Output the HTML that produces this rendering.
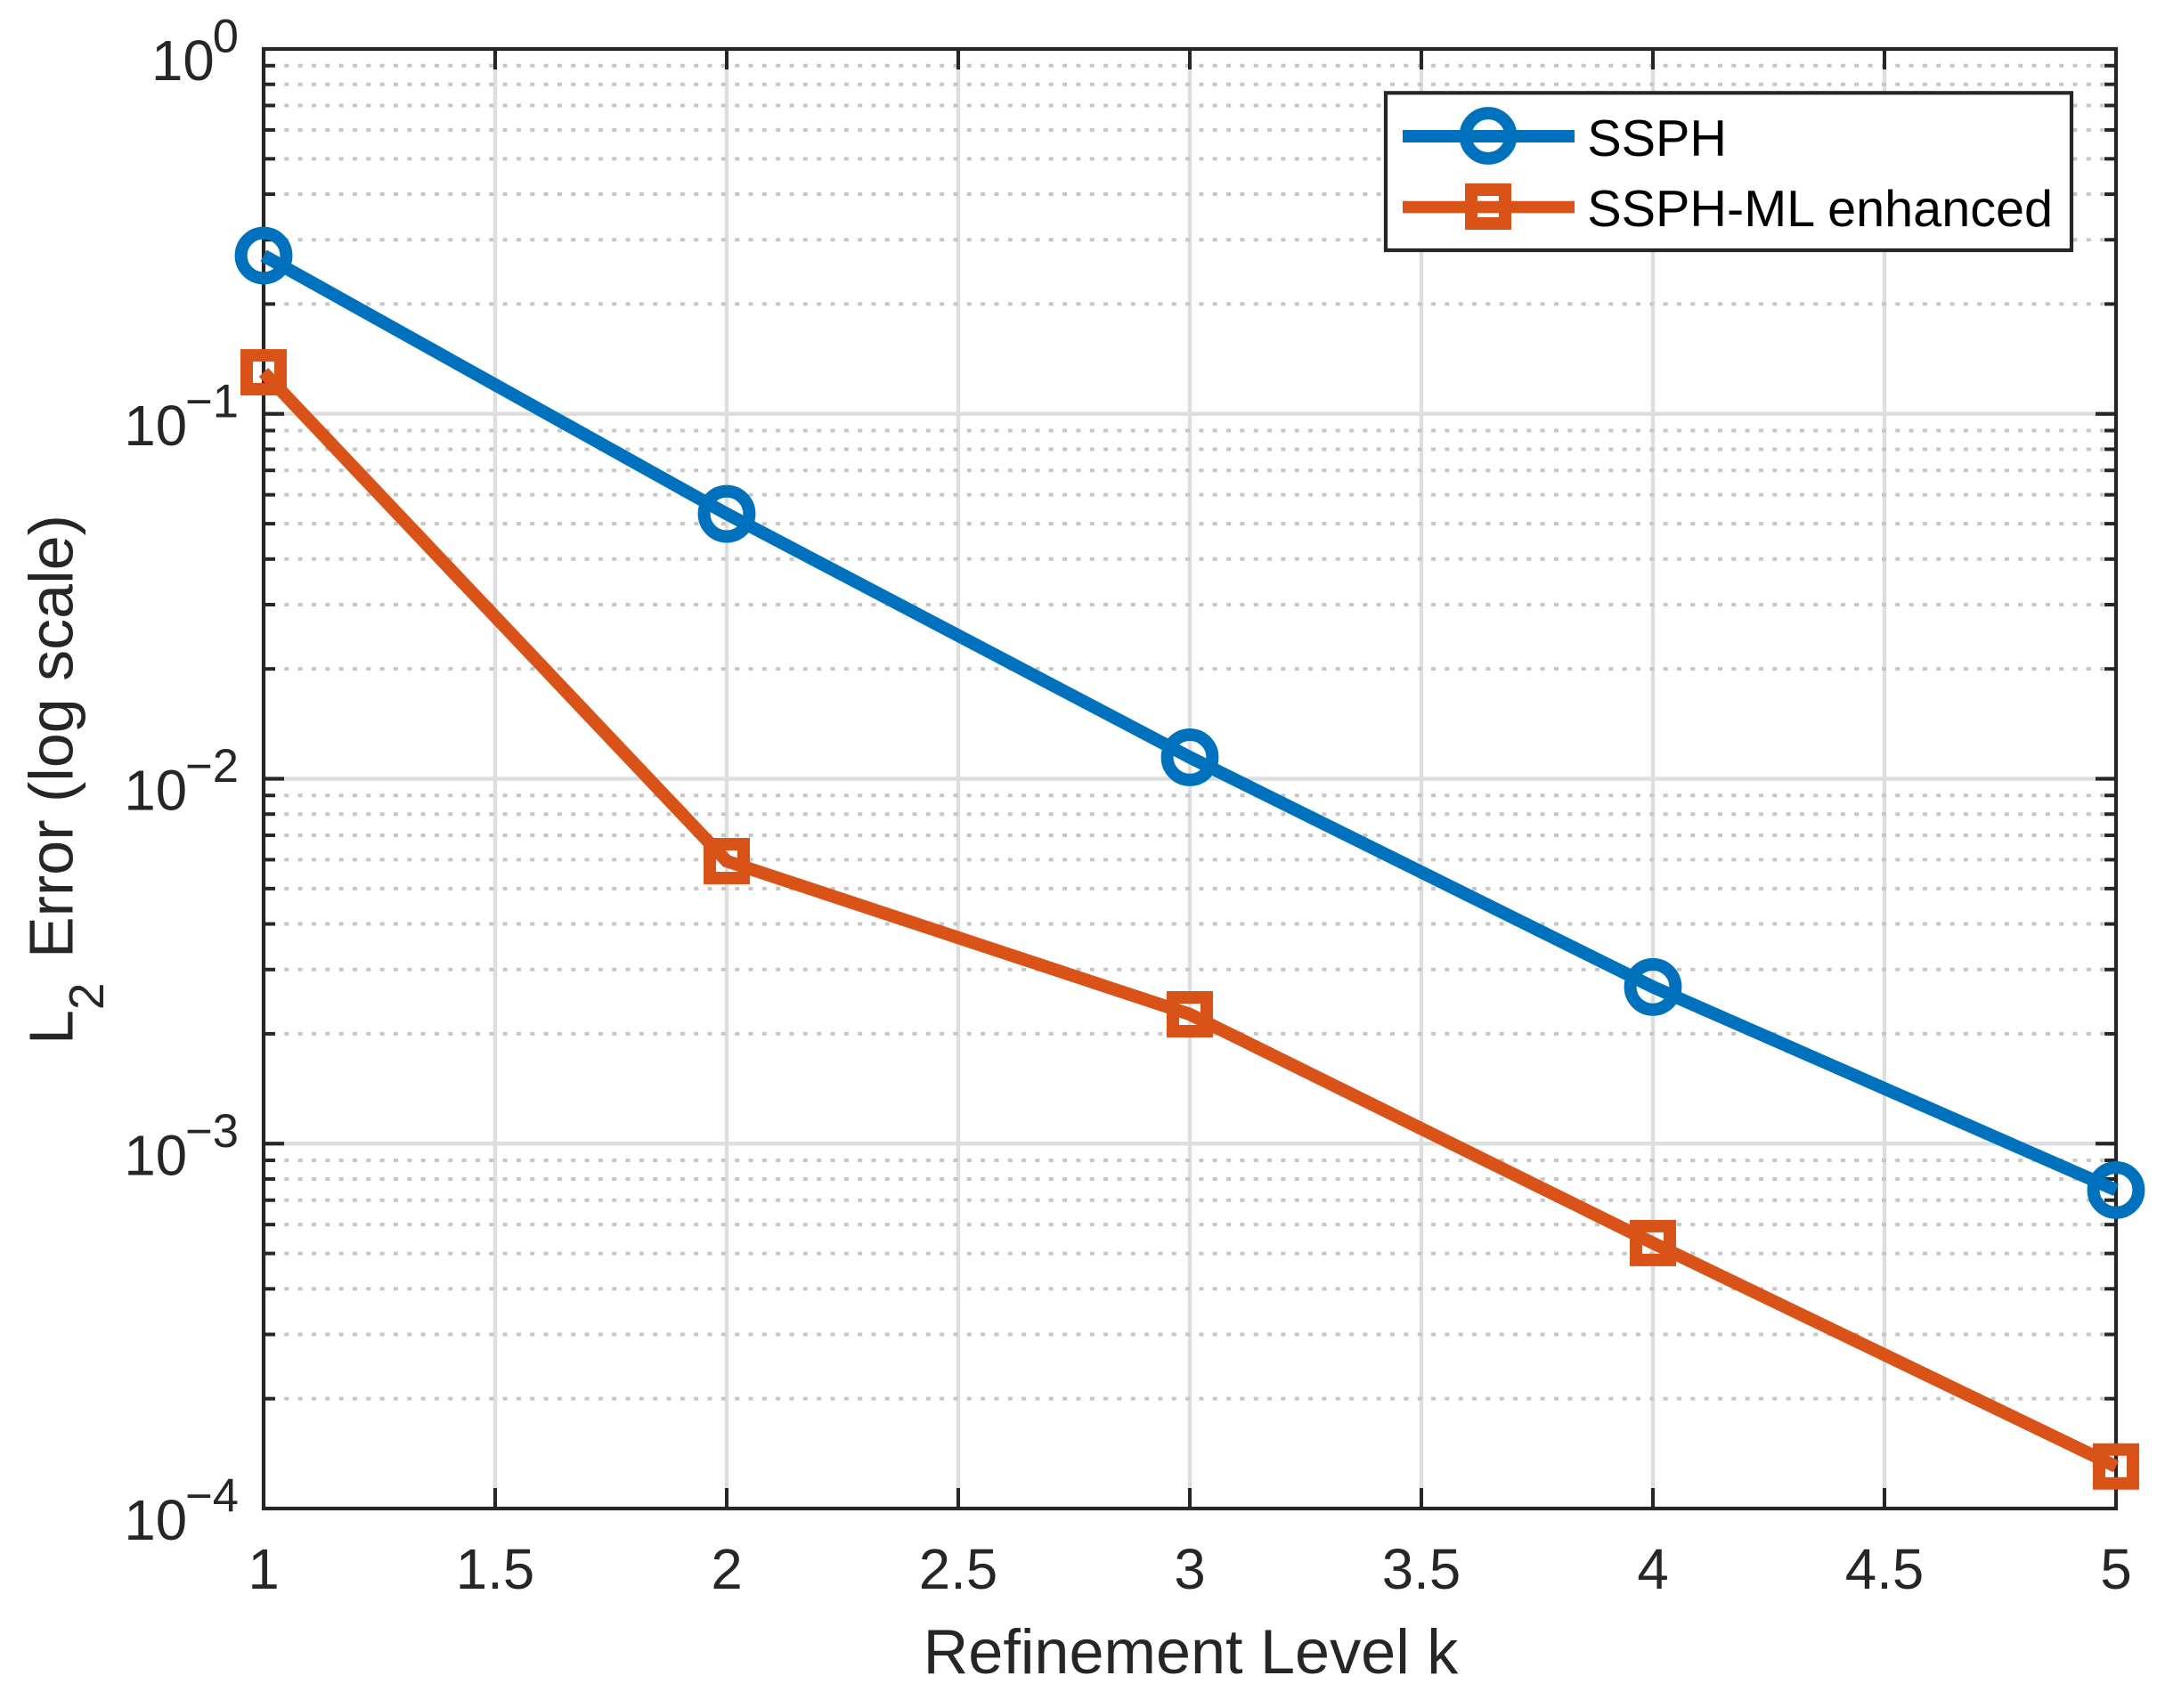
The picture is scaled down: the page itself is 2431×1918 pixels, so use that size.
<!DOCTYPE html>
<html lang="en">
<head>
<meta charset="utf-8">
<title>L2 Error vs Refinement Level</title>
<style>
html,body{margin:0;padding:0;background:#fff;}
svg{display:block;font-family:"Liberation Sans",Arial,sans-serif;}
</style>
</head>
<body>
<svg id="chart" xmlns="http://www.w3.org/2000/svg" width="2431" height="1918" viewBox="0 0 2431 1918">
  <rect x="0" y="0" width="2431" height="1918" fill="#fff"/>
  <g id="grid"></g>
  <g id="ticks"></g>
  <rect x="296" y="55" width="2080" height="1639" fill="none" stroke="#262626" stroke-width="4.2"/>
  <g id="xlabels" font-size="63.6" fill="#262626" text-anchor="middle"></g>
  <g id="ylabels" font-size="63.6" fill="#262626" text-anchor="end"></g>
  <text x="1337" y="1879" font-size="70.2" fill="#262626" text-anchor="middle">Refinement Level k</text>
  <text transform="translate(81.7,1173) rotate(-90)" font-size="70" fill="#262626">L<tspan font-size="55" dy="34.3">2</tspan><tspan dy="-34.3" dx="8"> Error (log scale)</tspan></text>
  <g id="series"></g>
  <g>
    <rect x="1556" y="104.3" width="770" height="176.7" fill="#fff" stroke="#262626" stroke-width="4.2"/>
    <g>
      <line x1="1575" y1="153" x2="1768" y2="153" stroke="#0072BD" stroke-width="14"/>
      <circle cx="1671" cy="152.5" r="25.4" fill="none" stroke="#0072BD" stroke-width="14"/>
      <text x="1782.2" y="175" font-size="57.6" fill="#000">SSPH</text>
    </g>
    <g>
      <line x1="1575" y1="232.5" x2="1768" y2="232.5" stroke="#D95319" stroke-width="13.5"/>
      <rect x="1652" y="213" width="38" height="38" fill="none" stroke="#D95319" stroke-width="14"/>
      <text x="1782.2" y="254" font-size="57.6" fill="#000">SSPH-ML enhanced</text>
    </g>
  </g>
</svg>
<script>
// Chart data
var kLevels = [1, 2, 3, 4, 5];
var ssphError = [0.2715, 0.0532, 0.01145, 0.002688, 0.000746];
var ssphMlError = [0.1300, 0.005947, 0.002262, 0.000534, 0.0001304];
var xTickValues = [1, 1.5, 2, 2.5, 3, 3.5, 4, 4.5, 5];
var xTickLabels = ['1', '1.5', '2', '2.5', '3', '3.5', '4', '4.5', '5'];
var yTickExponents = [0, -1, -2, -3, -4];
var yTickLabels = ['0', '\u22121', '\u22122', '\u22123', '\u22124'];
var minorMultipliers = [2, 3, 4, 5, 6, 7, 8, 9];

var NS = 'http://www.w3.org/2000/svg';
var plotLeft = 296, plotRight = 2376, plotTop = 55, plotBottom = 1694;
var xMin = 1, xMax = 5, yMaxExp = 0, yMinExp = -4;
var axisColor = '#262626', majorGridColor = '#dedede', minorGridColor = '#c6c6c6';

function xScale(v) {
  return plotLeft + (v - xMin) / (xMax - xMin) * (plotRight - plotLeft);
}
function yScale(v) {
  return plotTop + (yMaxExp - Math.log10(v)) / (yMaxExp - yMinExp) * (plotBottom - plotTop);
}
function make(tag, attrs, parent) {
  var el = document.createElementNS(NS, tag);
  for (var key in attrs) { el.setAttribute(key, attrs[key]); }
  parent.appendChild(el);
  return el;
}

var gridGroup = document.getElementById('grid');
var tickGroup = document.getElementById('ticks');
var xLabelGroup = document.getElementById('xlabels');
var yLabelGroup = document.getElementById('ylabels');
var seriesGroup = document.getElementById('series');

// Vertical grid, x ticks and x labels
xTickValues.forEach(function (v, i) {
  var x = xScale(v);
  if (v !== xMin && v !== xMax) {
    var g = make('line', {x1: x, y1: plotTop, x2: x, y2: plotBottom, stroke: majorGridColor, 'stroke-width': 4.4}, gridGroup);
    
    
    var t1 = make('line', {x1: x, y1: plotBottom, x2: x, y2: plotBottom - 23, stroke: axisColor, 'stroke-width': 4}, tickGroup);
    
    
    var t2 = make('line', {x1: x, y1: plotTop, x2: x, y2: plotTop + 23, stroke: axisColor, 'stroke-width': 4}, tickGroup);
    
    
  }
  var lab = make('text', {x: x, y: 1784}, xLabelGroup);
  lab.textContent = xTickLabels[i];
  
  
});

// Horizontal grid, y ticks and y labels
yTickExponents.forEach(function (exp, i) {
  var base = Math.pow(10, exp);
  var y = yScale(base);
  if (exp !== yMaxExp && exp !== yMinExp) {
    var g = make('line', {x1: plotLeft + 23, y1: y, x2: plotRight - 23, y2: y, stroke: majorGridColor, 'stroke-width': 4.4}, gridGroup);
    
    
    var t1 = make('line', {x1: plotLeft, y1: y, x2: plotLeft + 23, y2: y, stroke: axisColor, 'stroke-width': 4.2}, tickGroup);
    
    
    var t2 = make('line', {x1: plotRight, y1: y, x2: plotRight - 23, y2: y, stroke: axisColor, 'stroke-width': 4.2}, tickGroup);
    
    
  }
  var lab = make('text', {x: 268, y: y + 35}, yLabelGroup);
  
  
  lab.appendChild(document.createTextNode('10'));
  var sup = make('tspan', {dy: -31.3, dx: -2, 'font-size': 52.5}, lab);
  sup.textContent = yTickLabels[i];

  if (exp > yMinExp) {
    minorMultipliers.forEach(function (m) {
      var my = yScale(m * base / 10);
      var mg = make('line', {x1: 319.3, y1: my, x2: 2362, y2: my, stroke: minorGridColor, 'stroke-width': 4, 'stroke-dasharray': '5 10.33'}, gridGroup);
      
      
      var mt1 = make('line', {x1: plotLeft, y1: my, x2: plotLeft + 13, y2: my, stroke: axisColor, 'stroke-width': 4}, tickGroup);
      
      
      var mt2 = make('line', {x1: plotRight, y1: my, x2: plotRight - 13, y2: my, stroke: axisColor, 'stroke-width': 4}, tickGroup);
      
      
    });
  }
});

function linePoints(values) {
  return values.map(function (v, i) {
    return xScale(kLevels[i]).toFixed(2) + ',' + yScale(v).toFixed(2);
  }).join(' ');
}

// SSPH series
var ssphLine = make('polyline', {points: linePoints(ssphError), fill: 'none', stroke: '#0072BD', 'stroke-width': 14.5, 'stroke-linejoin': 'miter'}, seriesGroup);


ssphError.forEach(function (v, i) {
  var c = make('circle', {cx: xScale(kLevels[i]), cy: yScale(v), r: 25.4, fill: 'none', stroke: '#0072BD', 'stroke-width': 14}, seriesGroup);
  
  
});

// SSPH-ML series
var mlLine = make('polyline', {points: linePoints(ssphMlError), fill: 'none', stroke: '#D95319', 'stroke-width': 14.5, 'stroke-linejoin': 'miter'}, seriesGroup);


ssphMlError.forEach(function (v, i) {
  var half = 19;
  var s = make('rect', {x: xScale(kLevels[i]) - half, y: yScale(v) - half, width: half * 2, height: half * 2, fill: 'none', stroke: '#D95319', 'stroke-width': 14}, seriesGroup);
  
  
});
</script>
</body>
</html>
